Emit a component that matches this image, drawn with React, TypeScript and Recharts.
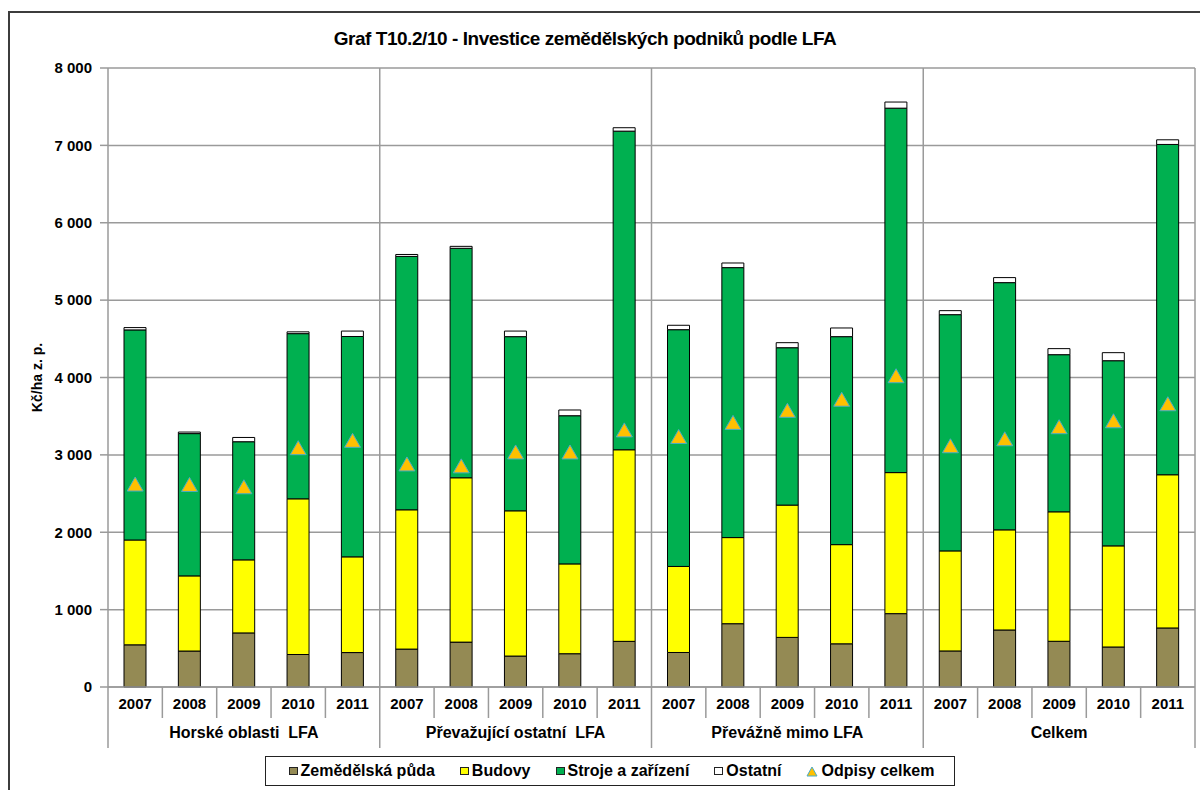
import {
  ComposedChart,
  Bar,
  Line,
  XAxis,
  YAxis,
  CartesianGrid,
  Legend,
} from "recharts";

const groups = [
  "Horské oblasti  LFA",
  "Převažující ostatní  LFA",
  "Převážně mimo LFA",
  "Celkem",
];
const years = ["2007", "2008", "2009", "2010", "2011"];

// Kč/ha z. p., 5 years per group, groups in order above
const puda = [545, 465, 699, 420, 445, 490, 580, 400, 430, 590, 446, 818, 641, 558, 948, 466, 737, 591, 517, 763];
const budovy = [1355, 971, 944, 2012, 1237, 1800, 2124, 1877, 1161, 2476, 1112, 1113, 1710, 1282, 1823, 1293, 1294, 1673, 1307, 1980];
const stroje = [2715, 1839, 1527, 2135, 2848, 3275, 2966, 2251, 1915, 4118, 3060, 3489, 2034, 2688, 4710, 3053, 3195, 2031, 2393, 4269];
const ostatni = [30, 20, 55, 23, 70, 25, 25, 72, 74, 44, 57, 60, 65, 112, 79, 52, 65, 78, 104, 60];
const odpisy = [2610, 2605, 2575, 3080, 3175, 2870, 2845, 3025, 3025, 3310, 3225, 3407, 3563, 3706, 4010, 3105, 3195, 3351, 3428, 3648];

const yTicks = [0, 1000, 2000, 3000, 4000, 5000, 6000, 7000, 8000];

const series = [
  { key: "puda", name: "Zemědělská půda", color: "#948A54" },
  { key: "budovy", name: "Budovy", color: "#FFFF00" },
  { key: "stroje", name: "Stroje a zařízení", color: "#00B050" },
  { key: "ostatni", name: "Ostatní", color: "#FFFFFF" },
];

const data = puda.map((_, i) => ({
  key: `${Math.floor(i / 5)}-${years[i % 5]}`,
  year: years[i % 5],
  group: groups[Math.floor(i / 5)],
  puda: puda[i],
  budovy: budovy[i],
  stroje: stroje[i],
  ostatni: ostatni[i],
  odpisy: odpisy[i],
}));

const W = 1200;
const H = 790;
const Y_AXIS_W = 108;
const M_RIGHT = 5;
const BAND = (W - Y_AXIS_W - M_RIGHT) / data.length;
const FONT = "Arial, 'Liberation Sans', sans-serif";
const GRID = "#9a9a9a";

const fmt = (v: number) => String(v).replace(/\B(?=(\d{3})+(?!\d))/g, " ");

const YearTick = (props: any) => {
  const { x, y, index } = props;
  const h = BAND / 2;
  return (
    <g>
      <text x={x} y={y + 22} textAnchor="middle" fontFamily={FONT} fontSize={15} fontWeight="bold" fill="#000">
        {data[index].year}
      </text>
      <line x1={x + h} y1={y} x2={x + h} y2={y + 31} stroke={GRID} strokeWidth={1.5} />
      {index === 0 && <line x1={x - h} y1={y} x2={x - h} y2={y + 31} stroke={GRID} strokeWidth={1.5} />}
    </g>
  );
};

const GroupTick = (props: any) => {
  const { x, y, index } = props;
  const h = BAND / 2;
  return (
    <g>
      {index % 5 === 2 && (
        <text x={x} y={y + 20} textAnchor="middle" fontFamily={FONT} fontSize={16} fontWeight="bold" fill="#000" style={{ whiteSpace: "pre" }}>
          {data[index].group}
        </text>
      )}
      {index % 5 === 4 && <line x1={x + h} y1={y} x2={x + h} y2={y + 30} stroke={GRID} strokeWidth={1.5} />}
      {index === 0 && <line x1={x - h} y1={y} x2={x - h} y2={y + 30} stroke={GRID} strokeWidth={1.5} />}
    </g>
  );
};

const Triangle = (props: any) => {
  const { cx, cy } = props;
  if (cx == null || cy == null) return null;
  return (
    <polygon
      points={`${cx},${cy - 8} ${cx + 8},${cy + 6} ${cx - 8},${cy + 6}`}
      fill="#FFC000"
      stroke="#4BACC6"
      strokeWidth={1}
    />
  );
};

const LegendBox = () => (
  <div style={{ display: "flex", justifyContent: "center", paddingLeft: 20 }}>
    <div
      style={{
        display: "flex",
        alignItems: "center",
        gap: 25,
        height: 30,
        boxSizing: "border-box",
        padding: "0 20px 0 23px",
        border: "1.5px solid #222",
        background: "#fff",
        fontFamily: FONT,
        fontSize: 16,
        fontWeight: "bold",
      }}
    >
      {series.map((s) => (
        <div key={s.key} style={{ display: "flex", alignItems: "center", gap: 3 }}>
          <span style={{ width: 9, height: 8, background: s.color, border: "1px solid #222", boxSizing: "border-box", display: "inline-block" }} />
          <span>{s.name}</span>
        </div>
      ))}
      <div style={{ display: "flex", alignItems: "center", gap: 3 }}>
        <svg width={12} height={11}>
          <polygon points="6,1 11,10 1,10" fill="#FFC000" stroke="#4BACC6" strokeWidth={1} />
        </svg>
        <span>Odpisy celkem</span>
      </div>
    </div>
  </div>
);

export default function App() {
  return (
    <div style={{ position: "absolute", left: 0, top: 0, width: W, height: H, background: "#fff", overflow: "hidden" }}>
      <div
        style={{
          position: "absolute",
          left: 8,
          top: 11,
          width: 1220,
          height: 800,
          border: "2px solid #3c3c3c",
          boxSizing: "border-box",
        }}
      />
      <div
        style={{
          position: "absolute",
          left: 0,
          width: 1170,
          top: 28,
          textAlign: "center",
          fontFamily: FONT,
          fontSize: 19,
          letterSpacing: -0.45,
          fontWeight: "bold",
          color: "#000",
        }}
      >
        Graf T10.2/10 - Investice zemědělských podniků podle LFA
      </div>
      <ComposedChart
        width={W}
        height={H}
        data={data}
        margin={{ top: 68, right: M_RIGHT, bottom: 4, left: 0 }}
        barSize={22}
      >
        <CartesianGrid
          stroke={GRID}
          strokeWidth={1.5}
          verticalCoordinatesGenerator={({ offset }: any) =>
            [1, 2, 3, 4].map((k) => offset.left + (offset.width * k) / 4)
          }
        />
        <XAxis
          dataKey="key"
          xAxisId={0}
          interval={0}
          height={31}
          tickSize={0}
          tickMargin={0}
          axisLine={{ stroke: GRID, strokeWidth: 1.5 }}
          tickLine={false}
          tick={<YearTick />}
        />
        <XAxis
          dataKey="key"
          xAxisId="g"
          interval={0}
          height={38}
          tickSize={0}
          tickMargin={0}
          axisLine={false}
          tickLine={false}
          tick={<GroupTick />}
        />
        <YAxis
          width={Y_AXIS_W}
          domain={[0, 8000]}
          ticks={yTicks}
          interval={0}
          tickSize={8}
          tickMargin={8}
          tickFormatter={fmt}
          axisLine={{ stroke: GRID, strokeWidth: 1.5 }}
          tickLine={{ stroke: GRID, strokeWidth: 1.5 }}
          tick={{ fill: "#000", fontFamily: FONT, fontSize: 15, fontWeight: "bold" }}
          label={(p: any) => {
            const vb = p.viewBox || {};
            const cx = 42;
            const cy = (vb.y ?? 68) + (vb.height ?? 619) / 2;
            return (
              <text x={cx} y={cy} transform={`rotate(-90 ${cx} ${cy})`} textAnchor="middle" fontFamily={FONT} fontSize={14} fontWeight="bold" fill="#000">
                Kč/ha z. p.
              </text>
            );
          }}
        />
        {series.map((s) => (
          <Bar
            key={s.key}
            dataKey={s.key}
            name={s.name}
            stackId="a"
            fill={s.color}
            stroke="#000"
            strokeWidth={1}
            isAnimationActive={false}
          />
        ))}
        <Line
          dataKey="odpisy"
          name="Odpisy celkem"
          stroke="none"
          dot={<Triangle />}
          activeDot={false}
          isAnimationActive={false}
        />
        <Legend verticalAlign="bottom" content={<LegendBox />} wrapperStyle={{ left: 0, width: W }} />
      </ComposedChart>
    </div>
  );
}
